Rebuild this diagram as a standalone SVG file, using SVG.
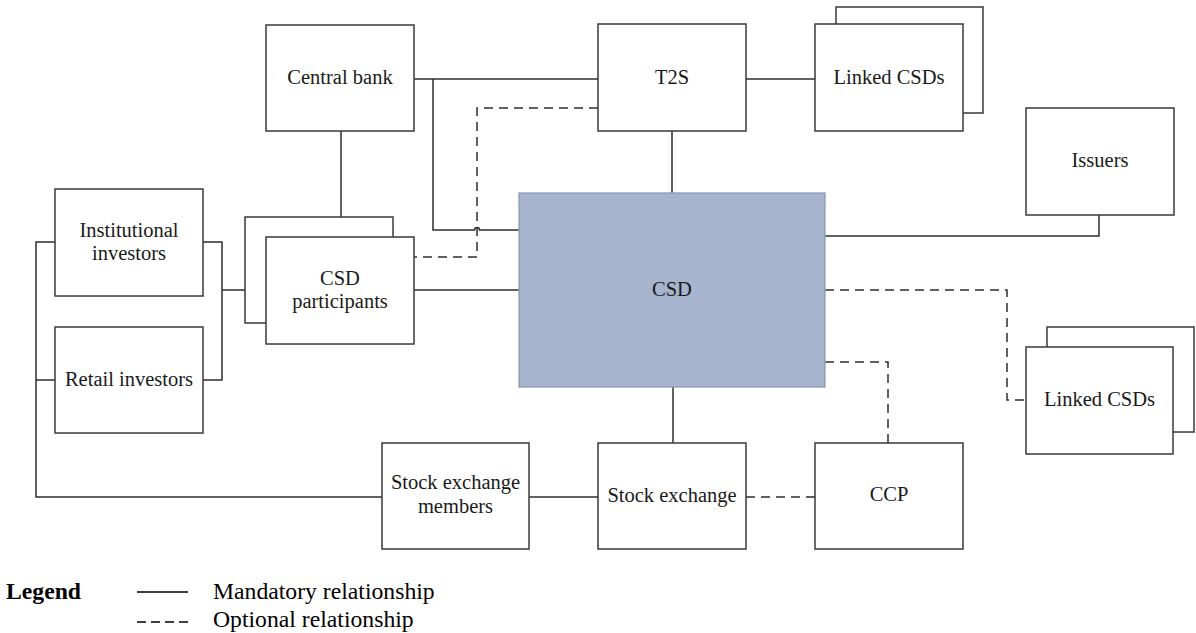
<svg xmlns="http://www.w3.org/2000/svg" width="1196" height="633" viewBox="0 0 1196 633">
<style>
.box{fill:#ffffff;stroke:#3a3a3a;stroke-width:1.5}
.csd{fill:#a6b5cd;stroke:#8797b1;stroke-width:1.2}
.t{font-family:"Liberation Serif","Times New Roman",serif;font-size:20.5px;fill:#1a1a1a;text-anchor:middle}
.lg{font-family:"Liberation Serif","Times New Roman",serif;font-size:23.7px;fill:#000}
.c{fill:none;stroke:#2e2e2e;stroke-width:1.5}
.d{fill:none;stroke:#2e2e2e;stroke-width:1.5;stroke-dasharray:9 6}
</style>
<rect width="1196" height="633" fill="#ffffff"/>
<g id="connectors">
<path class="c" d="M414,79 H598"/>
<path class="c" d="M433,79 V230 H474.5 A2.5,2.5 0 0 1 479.5,230 H519"/>
<path class="c" d="M341,131 V237"/>
<path class="c" d="M746,79 H815"/>
<path class="c" d="M672,131 V193"/>
<path class="d" d="M598,108 H477 V257 H414"/>
<path class="c" d="M1099,215 V236 H825"/>
<path class="c" d="M414,290 H519"/>
<path class="c" d="M203,242 H222 V380 H203"/>
<path class="c" d="M222,290 H266"/>
<path class="c" d="M55,242 H36 V497 H382"/>
<path class="c" d="M36,380 H55"/>
<path class="c" d="M529,497 H598"/>
<path class="c" d="M673,387 V443"/>
<path class="d" d="M746,497 H815"/>
<path class="d" d="M825,362 H888 V443"/>
<path class="d" d="M825,290 H1007 V400 H1026"/>
</g>
<g id="central-bank">
<rect class="box" x="266" y="25" width="148" height="106"/>
<text class="t" x="340" y="84">Central bank</text>
</g>
<g id="t2s">
<rect class="box" x="598" y="24" width="148" height="107"/>
<text class="t" x="672" y="84">T2S</text>
</g>
<g id="linked-csds-top">
<rect class="box" x="836" y="7" width="147" height="106"/>
<rect class="box" x="815" y="24" width="148" height="107"/>
<text class="t" x="889" y="84">Linked CSDs</text>
</g>
<g id="issuers">
<rect class="box" x="1026" y="108" width="148" height="107"/>
<text class="t" x="1100" y="167">Issuers</text>
</g>
<g id="institutional-investors">
<rect class="box" x="55" y="189" width="148" height="107"/>
<text class="t" x="129" y="237">Institutional</text>
<text class="t" x="129" y="260">investors</text>
</g>
<g id="retail-investors">
<rect class="box" x="55" y="327" width="148" height="106"/>
<text class="t" x="129" y="386">Retail investors</text>
</g>
<g id="csd-participants">
<rect class="box" x="245" y="217" width="148" height="106"/>
<rect class="box" x="266" y="237" width="148" height="107"/>
<text class="t" x="340" y="285">CSD</text>
<text class="t" x="340" y="308">participants</text>
</g>
<g id="csd">
<rect class="csd" x="519" y="193" width="306" height="194"/>
<text class="t" x="672" y="296">CSD</text>
</g>
<g id="linked-csds-bottom">
<rect class="box" x="1047" y="327" width="147" height="105"/>
<rect class="box" x="1026" y="347" width="147" height="107"/>
<text class="t" x="1099.5" y="406">Linked CSDs</text>
</g>
<g id="stock-exchange-members">
<rect class="box" x="382" y="443" width="147" height="106"/>
<text class="t" x="455.5" y="489">Stock exchange</text>
<text class="t" x="455.5" y="513">members</text>
</g>
<g id="stock-exchange">
<rect class="box" x="598" y="443" width="148" height="106"/>
<text class="t" x="672" y="502">Stock exchange</text>
</g>
<g id="ccp">
<rect class="box" x="815" y="443" width="148" height="106"/>
<text class="t" x="889" y="501">CCP</text>
</g>
<g id="legend">
<text class="lg" x="6" y="599" font-weight="bold">Legend</text>
<line x1="137" y1="592" x2="188" y2="592" stroke="#000" stroke-width="1.5"/>
<text class="lg" x="213" y="599">Mandatory relationship</text>
<line x1="137" y1="622" x2="188" y2="622" stroke="#000" stroke-width="1.5" stroke-dasharray="9 5"/>
<text class="lg" x="213" y="627">Optional relationship</text>
</g>
</svg>
